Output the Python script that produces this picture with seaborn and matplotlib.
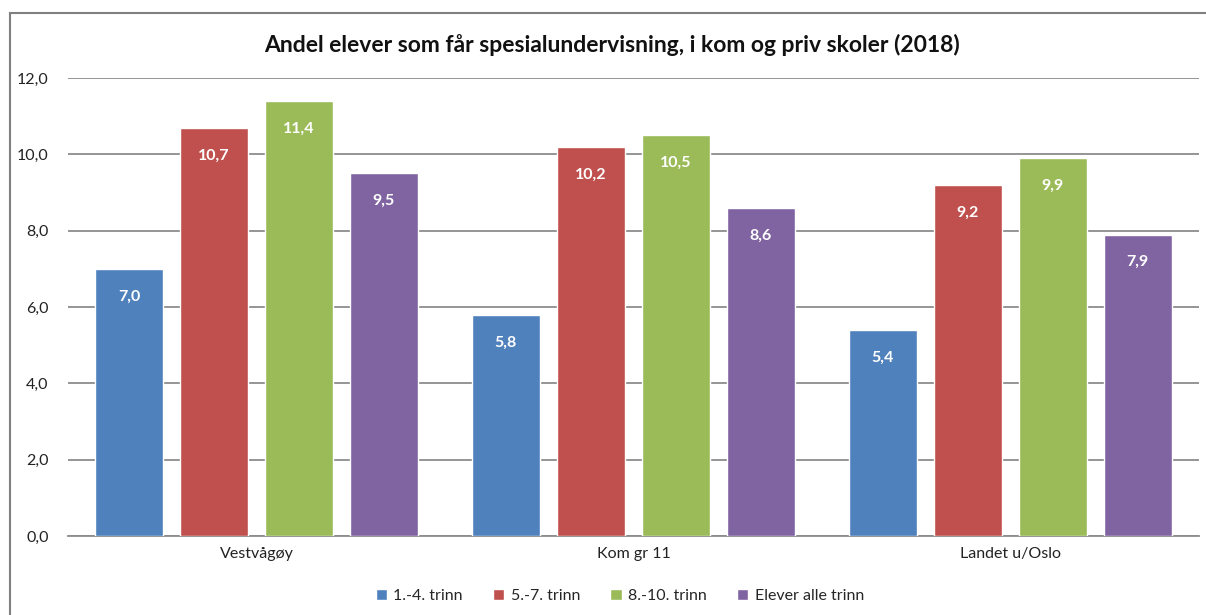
import matplotlib
matplotlib.use("Agg")
import matplotlib.pyplot as plt
import seaborn as sns
import pandas as pd
from matplotlib.patches import Rectangle

categories = ["Vestvågøy", "Kom gr 11", "Landet u/Oslo"]
series = ["1.-4. trinn", "5.-7. trinn", "8.-10. trinn", "Elever alle trinn"]
v_1_4 = [7.0, 5.8, 5.4]
v_5_7 = [10.7, 10.2, 9.2]
v_8_10 = [11.4, 10.5, 9.9]
v_alle = [9.5, 8.6, 7.9]
colors = ["#4F81BD", "#C0504D", "#9BBB59", "#8064A2"]
yticks = [0, 2, 4, 6, 8, 10, 12]

rows = []
for s, vals in zip(series, [v_1_4, v_5_7, v_8_10, v_alle]):
    for c, v in zip(categories, vals):
        rows.append({"cat": c, "series": s, "val": v})
df = pd.DataFrame(rows)

sns.set_theme(style="white")
plt.rcParams["font.family"] = ["Lato", "DejaVu Sans"]

fig = plt.figure(figsize=(12.06, 6.15), dpi=100)
ax = fig.add_axes([0.0564, 0.1285, 0.9376, 0.7445])

sns.barplot(data=df, x="cat", y="val", hue="series", palette=colors,
            order=categories, hue_order=series, width=0.902, gap=0.2,
            ax=ax, errorbar=None, saturation=1, zorder=3)

for cont in ax.containers:
    labels = [f"{b.get_height():.1f}".replace(".", ",") for b in cont]
    ax.bar_label(cont, labels=labels, padding=-25, color="white",
                 fontsize=11.5, fontweight="bold")

ax.set_ylim(0, 12)
ax.set_yticks(yticks)
ax.set_yticklabels([f"{t:.1f}".replace(".", ",") for t in yticks], fontsize=11.5, color="#222222")
ax.tick_params(axis="y", length=0, pad=14)
ax.tick_params(axis="x", length=0, pad=8, labelsize=11.5, labelcolor="#222222")
ax.set_xlim(-0.5, 2.5)
ax.set_xlabel("")
ax.set_ylabel("")
ax.yaxis.grid(True, color="#8C8C8C", linewidth=1.3, zorder=0)
ax.set_axisbelow(True)
for side in ["top", "right", "left"]:
    ax.spines[side].set_visible(False)
ax.spines["bottom"].set_color("#8C8C8C")
ax.spines["bottom"].set_linewidth(1.3)

fig.text(612 / 1206, 1 - 45 / 615,
         "Andel elever som får spesialundervisning, i kom og priv skoler (2018)",
         fontsize=16.5, fontweight="bold", color="#111111", ha="center", va="center")

leg = ax.legend(loc="upper center", bbox_to_anchor=(0.488, -0.085), ncol=4,
                frameon=False, fontsize=11.5, handlelength=0.7, handleheight=0.7,
                handletextpad=0.4, columnspacing=1.9)

fig.patches.append(Rectangle((10 / 1206, -0.1), 1.2, 1 - 13 / 615 + 0.1,
                             transform=fig.transFigure, fill=False,
                             edgecolor="#808080", linewidth=1.5))

fig.savefig("out.png", dpi=100)
